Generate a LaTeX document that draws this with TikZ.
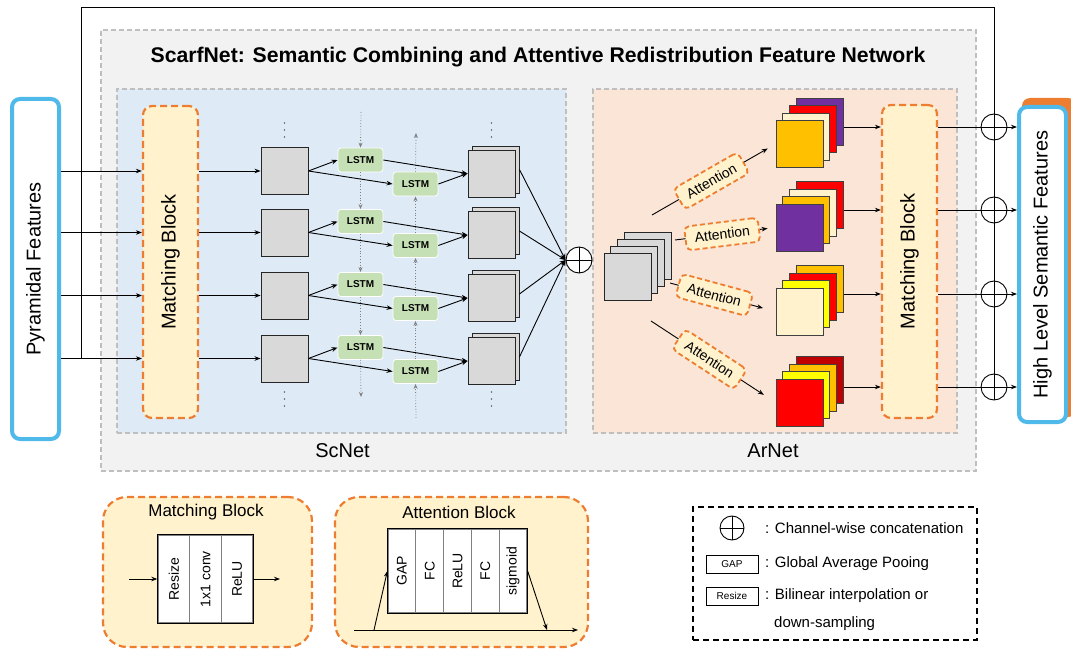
\documentclass[tikz,border=0pt]{standalone}
\usepackage{fontspec}
\usepackage{graphicx}
\setmainfont{Liberation Sans}
\usetikzlibrary{arrows.meta,calc}

\definecolor{skyline}{HTML}{4FB9E9}
\definecolor{tangerine}{HTML}{ED7D31}
\definecolor{creamfill}{HTML}{FFF2CC}
\definecolor{scfill}{HTML}{DEEBF7}
\definecolor{arfill}{HTML}{FBE5D6}
\definecolor{panelgray}{HTML}{F2F2F2}
\definecolor{dashgray}{HTML}{BFBFBF}
\definecolor{mapgray}{HTML}{D9D9D9}
\definecolor{lstmgreen}{HTML}{C5E0B4}
\definecolor{mapgold}{HTML}{FFC000}
\definecolor{mapred}{HTML}{FF0000}
\definecolor{mappurple}{HTML}{7030A0}
\definecolor{mapyellow}{HTML}{FFFF00}
\definecolor{mapdark}{HTML}{C00000}

\tikzset{
  arr/.style={-{Stealth[length=6pt,width=4.5pt]}, line width=0.9pt},
  region/.style={draw=dashgray, dash pattern=on 5pt off 3pt, line width=1.2pt, inner sep=0pt},
  orangebox/.style={draw=tangerine, fill=creamfill, line width=2.2pt,
    dash pattern=on 7pt off 4pt, rounded corners=9pt, inner sep=0pt},
  featbox/.style={draw=skyline, fill=white, line width=4pt, rounded corners=8pt, inner sep=0pt},
  featmap/.style={draw=black!85, line width=0.9pt, minimum size=47pt, inner sep=0pt, fill=mapgray},
  lstm/.style={fill=lstmgreen, draw=white, line width=0.8pt, rounded corners=3pt,
    minimum width=45pt, minimum height=24pt, inner sep=0pt,
    font=\fontsize{10}{12}\selectfont\bfseries},
  attn/.style={draw=tangerine, fill=creamfill, line width=1.8pt, dash pattern=on 5pt off 3pt,
    rounded corners=5pt, minimum width=74pt, minimum height=24pt, inner sep=1pt,
    font=\fontsize{14}{16}\selectfont, sloped},
  concat/.style={circle, draw, line width=0.9pt, fill=white, minimum size=26pt, inner sep=0pt,
    path picture={\draw[line width=0.9pt]
      (path picture bounding box.north) -- (path picture bounding box.south)
      (path picture bounding box.west) -- (path picture bounding box.east);}},
  vdotted/.style={draw=black!50, dotted, line width=0.8pt, -{Stealth[length=5pt,width=4pt]}},
  cell/.style={draw=black!50, line width=1.3pt, inner sep=0pt, fill=white,
    font=\fontsize{14}{16}\selectfont},
  panel/.style={draw=tangerine, fill=creamfill, line width=2.2pt,
    dash pattern=on 7pt off 4pt, rounded corners=24pt, inner sep=0pt},
  legtext/.style={anchor=west, inner sep=0pt, font=\fontsize{15}{18}\selectfont},
  smallbox/.style={draw, line width=0.8pt, minimum width=52pt, minimum height=18pt,
    inner sep=0pt, font=\fontsize{10}{12}\selectfont}
}

\begin{document}
\begin{tikzpicture}[x=1pt, y=-1pt, font=\fontsize{20}{24}\selectfont]
\useasboundingbox (0,0) rectangle (1071,652);

% ---------- frames ----------
\node[region, fill=panelgray, minimum width=875pt, minimum height=441pt] (scarf) at (538.5,250.5) {};
\node[region, fill=scfill, minimum width=449pt, minimum height=344pt] (scnet) at (341.5,261) {};
\node[region, fill=arfill, minimum width=364pt, minimum height=344pt] (arnet) at (775,261) {};
\node[font=\fontsize{21.2}{25}\selectfont\bfseries] (title) at (538,57)
  {ScarfNet: Semantic Combining and Attentive Redistribution Feature Network};
\node (scname) at (342.5,451) {ScNet};
\node (arname) at (773,451) {ArNet};

% ---------- input / output features ----------
\node[featbox, minimum width=47pt, minimum height=340pt] (pyr) at (35.5,269)
  {\rotatebox{90}{Pyramidal Features}};
\node[fill=tangerine, rounded corners=8pt, minimum width=54pt, minimum height=319pt, inner sep=0pt]
  (hlback) at (1049,257.5) {};
\node[featbox, minimum width=47pt, minimum height=315pt] (hl) at (1042.5,264.5)
  {\rotatebox{90}{High Level Semantic Features}};

% ---------- matching blocks ----------
\node[orangebox, minimum width=55pt, minimum height=312pt] (mbL) at (170.5,262)
  {\rotatebox{90}{Matching Block}};
\node[orangebox, minimum width=55pt, minimum height=313pt] (mbR) at (909.5,261.5)
  {\rotatebox{90}{Matching Block}};

% ---------- ScNet ----------
\node[concat] (cat0) at (579,260) {};
\foreach \i/\yy in {1/171, 2/232.5, 3/295.5, 4/358.5} {
  \node[featmap] (sq\i) at (284.5,\yy) {};
  \node[lstm] (la\i) at (360.5,\yy-11) {LSTM};
  \node[lstm] (lb\i) at (415.5,\yy+13) {LSTM};
  \node[featmap] (sb\i) at (495.5,\yy-1.5) {};
  \node[featmap] (sf\i) at (491.5,\yy+2.5) {};
}

% forward (downward) and backward (upward) recurrent flow
\coordinate (dnTop) at (361,112);
\coordinate (dnEnd) at (361,397);
\coordinate (upStart) at (416,418);
\coordinate (upEnd) at (416,133);
\draw[vdotted] (dnTop) -- (la1.north);
\foreach \i/\j in {1/2,2/3,3/4} \draw[vdotted] (la\i.south) -- (la\j.north);
\draw[vdotted] (la4.south) -- (dnEnd);
\draw[vdotted] (upStart) -- (lb4.south);
\foreach \i/\j in {4/3,3/2,2/1} \draw[vdotted] (lb\i.north) -- (lb\j.south);
\draw[vdotted] (lb1.north) -- (upEnd);

\foreach \i in {1,...,4} {
  \draw[arr] (pyr.east |- sq\i) -- (mbL.west |- sq\i);
  \draw[arr] (mbL.east |- sq\i) -- (sq\i.west);
  \draw[arr] (sq\i.east) -- (la\i.west);
  \draw[arr] (sq\i.east) -- (lb\i.west);
  \draw[arr] (la\i.east) -- (sf\i.west);
  \draw[arr] (lb\i.east) -- (sf\i.west);
  \draw[arr] (sb\i.east) -- (cat0.west);
}

% vertical ellipses
\foreach \xx in {284.5, 491.5}
  \foreach \yy in {123, 130, 137, 392, 399, 406}
    \fill[black!60] (\xx,\yy) circle (0.9pt);

% ---------- ArNet ----------
\node[featmap] (g4) at (647.6,255.5) {};
\node[featmap] (g3) at (640.9,262.5) {};
\node[featmap] (g2) at (634.2,269.5) {};
\node[featmap] (g1) at (627.5,276.5) {};

\foreach \i/\yy/\ca/\cb/\cc/\cd in {
    1/144/mapgold/creamfill/mapred/mappurple,
    2/227.5/mappurple/mapgold/creamfill/mapred,
    3/311.5/creamfill/mapyellow/mapred/mapgold,
    4/402.5/mapred/mapyellow/mapgold/mapdark} {
  \node[featmap, draw=black!75, fill=\cd] (c\i d) at (819.6,\yy-22.5) {};
  \node[featmap, draw=black!75, fill=\cc] (c\i c) at (812.9,\yy-15) {};
  \node[featmap, draw=black!75, fill=\cb] (c\i b) at (806.2,\yy-7.5) {};
  \node[featmap, draw=black!75, fill=\ca] (c\i a) at (799.5,\yy) {};
}

\coordinate (a1s) at (652,215);
\coordinate (a2s) at (675,240);
\coordinate (a3s) at (670,283);
\coordinate (a4s) at (651,321);
\draw[arr, shorten >=9pt] (a1s) -- node[attn, pos=0.48] (att1) {Attention} (c1a.west);
\draw[arr, shorten >=8pt] (a2s) -- node[attn, pos=0.47] (att2) {Attention} (c2a.west);
\draw[arr, shorten >=13pt] (a3s) -- node[attn, pos=0.42] (att3) {Attention} (c3a.west);
\draw[arr, shorten >=14pt] (a4s) -- node[attn, pos=0.47] (att4) {Attention} (c4a.west);

% ---------- skip connection and channel-wise concatenation ----------
\coordinate (skipL) at (81,358.5);
\coordinate (skipT) at (994,7);
\foreach \i/\r in {1/127, 2/210, 3/294, 4/387}
  \coordinate (o\i) at (994,\r);
\draw[line width=0.9pt] (skipL) |- (skipT) -- (o4);
\foreach \i in {1,...,4} {
  \draw[arr] (c\i d.east |- o\i) -- (mbR.west |- o\i);
  \draw[arr] (mbR.east |- o\i) -- (hl.west |- o\i);
  \node[concat] (cat\i) at (o\i) {};
}

% ---------- Matching Block detail ----------
\node[panel, minimum width=209pt, minimum height=150pt] (mbpanel) at (207.5,572) {};
\node[font=\fontsize{17}{20}\selectfont] (mbtitle) at (206,512) {Matching Block};
\node[cell, minimum width=31.7pt, minimum height=88pt] (mc1) at (173.8,579) {\rotatebox{90}{Resize}};
\node[cell, minimum width=31.7pt, minimum height=88pt] (mc2) at (205.5,579) {\rotatebox{90}{1x1 conv}};
\node[cell, minimum width=31.7pt, minimum height=88pt] (mc3) at (237.2,579) {\rotatebox{90}{ReLU}};
\draw[line width=0.9pt] (mc1.north west) rectangle (mc3.south east);
\coordinate (mbin) at (129,579);
\coordinate (mbout) at (280,579);
\draw[arr] (mbin) -- (mc1.west);
\draw[arr] (mc3.east) -- (mbout);

% ---------- Attention Block detail ----------
\node[panel, minimum width=253pt, minimum height=150pt] (abpanel) at (461.5,572) {};
\node[font=\fontsize{17}{20}\selectfont] (abtitle) at (459,512) {Attention Block};
\foreach \i/\xx/\tx in {1/401.9/GAP, 2/429.7/FC, 3/457.5/ReLU, 4/485.3/FC, 5/513.1/sigmoid}
  \node[cell, minimum width=27.8pt, minimum height=84pt] (ac\i) at (\xx,571) {\rotatebox{90}{\tx}};
\draw[line width=0.9pt] (ac1.north west) rectangle (ac5.south east);
\coordinate (abin) at (354,630);
\coordinate (about) at (578,630);
\coordinate (abfork) at (374,630);
\coordinate (abjoin) at (547,630);
\draw[arr] (abin) -- (about);
\draw[arr] (abfork) -- (ac1.west);
\draw[arr] (ac5.east) -- (abjoin);

% ---------- legend ----------
\node[draw, line width=1.2pt, dash pattern=on 6pt off 4pt, minimum width=284pt, minimum height=133pt, inner sep=0pt]
  (legend) at (835,573.5) {};
\node[concat, minimum size=24pt] (lgcat) at (732,528) {};
\node[legtext] (lgt1) at (765,528) {: Channel-wise concatenation};
\node[smallbox] (lggap) at (732,564) {GAP};
\node[legtext] (lgt2) at (765,564) {: Global Average Pooing};
\node[smallbox] (lgrs) at (732,596) {Resize};
\node[legtext] (lgt3) at (765,596) {: Bilinear interpolation or};
\node[legtext] (lgt4) at (774,624) {down-sampling};
\end{tikzpicture}
\end{document}
